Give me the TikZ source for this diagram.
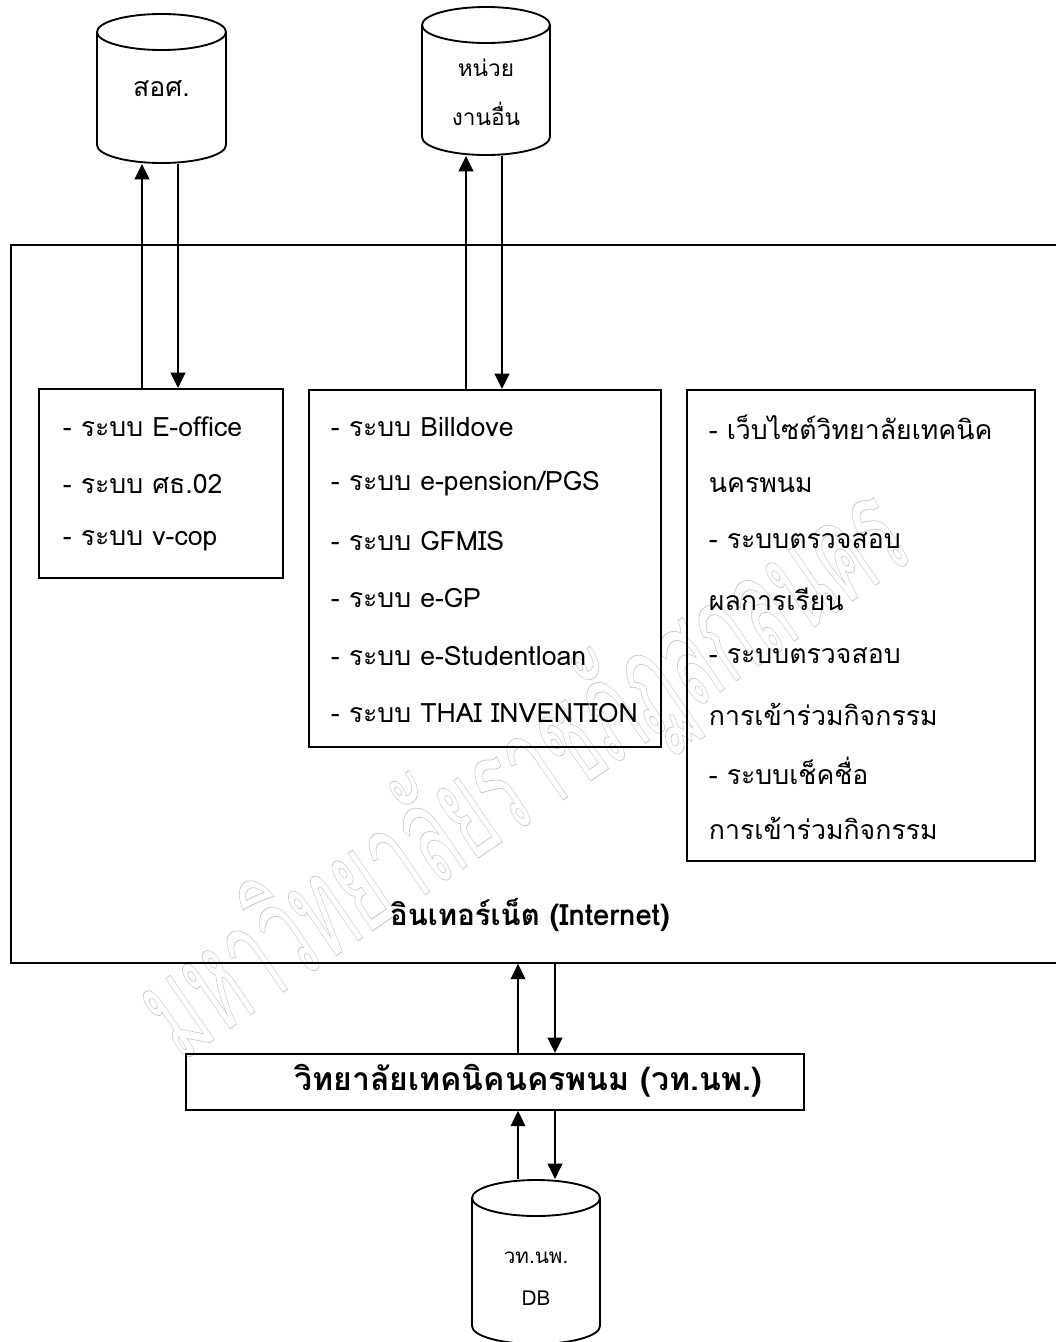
\documentclass[tikz,border=0pt]{standalone}
\usepackage{fontspec}
\setmainfont[Script=Thai]{Loma}
\usetikzlibrary{arrows.meta}
\begin{document}
\begin{tikzpicture}[x=0.75pt,y=-0.75pt,line width=1.4pt,
  box/.style={draw,line width=1.4pt,inner sep=0pt,anchor=north west},
  ln/.style={anchor=west,inner sep=0pt,font=\fontsize{20}{22}\selectfont},
  cyltext/.style={inner sep=0pt,align=center},
  arr/.style={-{Triangle[length=11.5pt,width=11pt]},line width=1.4pt}]
\useasboundingbox (0,0) rectangle (1056,1342);
\clip (0,0) rectangle (1056,1342);
% watermark
\node[rotate=34.5,text=gray!45,inner sep=0pt] (wm) at (525,775)
  {\special{pdf:literal direct 1 Tr 0.6 w}\scalebox{0.52}[1]{\fontsize{105}{105}\selectfont มหาวิทยาลัยราชภัฏสกลนคร}\special{pdf:literal direct 0 Tr}};
% cylinders
\draw (161.5,32) ellipse [x radius=48.375pt,y radius=13.5pt];
\draw (97,32) -- (97,145) arc[start angle=180,end angle=360,x radius=48.375pt,y radius=13.5pt] -- (226,32);
\node[inner sep=0pt,minimum width=96.75pt,minimum height=111.75pt,font=\fontsize{20}{22}\selectfont] (c1) at (161.5,88.5) {สอศ.};
\draw (486,25) ellipse [x radius=48pt,y radius=13.5pt];
\draw (422,25) -- (422,137) arc[start angle=180,end angle=360,x radius=48pt,y radius=13.5pt] -- (550,25);
\node[inner sep=0pt,minimum width=96pt,minimum height=111pt] (c2) at (486,81) {};
\node[cyltext,font=\fontsize{17}{36.75}\selectfont] (c2t) at (486,92) {หน่วย\\งานอื่น};
\draw (536,1198) ellipse [x radius=48pt,y radius=13.5pt];
\draw (472,1198) -- (472,1326) arc[start angle=180,end angle=360,x radius=48pt,y radius=13.5pt] -- (600,1198);
\node[inner sep=0pt,minimum width=96pt,minimum height=121.5pt] (c3) at (536,1261) {};
\node[cyltext,font=\fontsize{15.5}{31.5}\selectfont] (c3t) at (536,1279) {วท.นพ.\\DB};
% internet frame
\node[box,minimum width=795pt,minimum height=538.5pt] (net) at (10,244) {};
\node[inner sep=0pt,font=\bfseries\fontsize{22}{24}\selectfont] (netl) at (530,915) {อินเทอร์เน็ต (Internet)};
% boxes
\node[box,minimum width=183pt,minimum height=141.75pt] (b1) at (38,388) {};
\node[ln] (l11) at (62,427) {- ระบบ E-office};
\node[ln] (l12) at (62,484) {- ระบบ ศธ.02};
\node[ln] (l13) at (62,541) {- ระบบ v-cop};
\node[box,minimum width=264pt,minimum height=267.75pt] (b2) at (308,389) {};
\node[ln] (l21) at (330,427) {- ระบบ Billdove};
\node[ln] (l22) at (330,484) {- ระบบ e-pension/PGS};
\node[ln] (l23) at (330,541) {- ระบบ GFMIS};
\node[ln] (l24) at (330,598) {- ระบบ e-GP};
\node[ln] (l25) at (330,656) {- ระบบ e-Studentloan};
\node[ln] (l26) at (330,713) {- ระบบ THAI INVENTION};
\node[box,minimum width=261pt,minimum height=353.25pt] (b3) at (686,389) {};
\node[ln] (l31) at (708,427) {- เว็บไซต์วิทยาลัยเทคนิค};
\node[ln] (l32) at (708,485) {นครพนม};
\node[ln] (l33) at (708,541) {- ระบบตรวจสอบ};
\node[ln] (l34) at (708,599) {ผลการเรียน};
\node[ln] (l35) at (708,656) {- ระบบตรวจสอบ};
\node[ln] (l36) at (708,714) {การเข้าร่วมกิจกรรม};
\node[ln] (l37) at (708,771) {- ระบบเช็คชื่อ};
\node[ln] (l38) at (708,828) {การเข้าร่วมกิจกรรม};
% college box
\node[box,minimum width=463.5pt,minimum height=42pt] (vt) at (185,1053) {};
\node[inner sep=0pt,font=\bfseries\fontsize{24}{26}\selectfont] (vtl) at (528,1081) {วิทยาลัยเทคนิคนครพนม (วท.นพ.)};
% arrow x positions
\coordinate (u1) at (142,0);
\coordinate (d1) at (178,0);
\coordinate (u2) at (466,0);
\coordinate (d2) at (502,0);
\coordinate (u3) at (518,0);
\coordinate (d3) at (555,0);
\draw[arr] (b1.north -| u1) -- (c1.south -| u1);
\draw[arr] (c1.south -| d1) -- (b1.north -| d1);
\draw[arr] (b2.north -| u2) -- (c2.south -| u2);
\draw[arr] (c2.south -| d2) -- (b2.north -| d2);
\draw[arr] (vt.north -| u3) -- (net.south -| u3);
\draw[arr] (net.south -| d3) -- (vt.north -| d3);
\draw[arr] (c3.north -| u3) -- (vt.south -| u3);
\draw[arr] (vt.south -| d3) -- (c3.north -| d3);
\end{tikzpicture}
\end{document}
